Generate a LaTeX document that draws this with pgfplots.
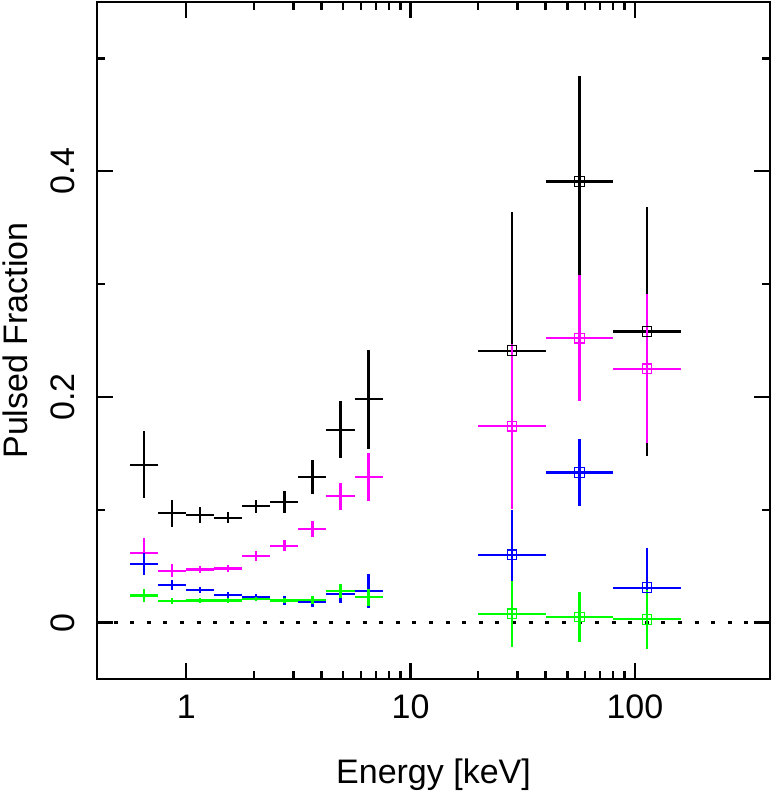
\documentclass[border=0pt]{standalone}
\usepackage{fontspec}
\setmainfont{Liberation Sans}
\usepackage{pgfplots}
\usepackage{pgfplotstable}
\pgfplotsset{compat=1.18}
\definecolor{pgmag}{RGB}{255,0,255}
\definecolor{pgblue}{RGB}{0,0,255}
\definecolor{pggreen}{RGB}{0,255,0}

% soft band: bin centre, bin half-widths, then value and error for black, magenta, blue, green
\pgfplotstableread{
x xp xm yk ek ym em yb eb yg eg
0.6494 0.1005 0.0871 0.140 0.030 0.062 0.013 0.052 0.010 0.024 0.006
0.8660 0.1340 0.1161 0.097 0.012 0.046 0.006 0.033 0.0045 0.019 0.0027
1.1548 0.1787 0.1548 0.095 0.007 0.047 0.003 0.029 0.0027 0.0195 0.002
1.5399 0.2384 0.2064 0.093 0.005 0.048 0.003 0.0245 0.0025 0.0195 0.002
2.0535 0.3179 0.2752 0.103 0.006 0.059 0.004 0.023 0.0025 0.021 0.002
2.7384 0.4239 0.3670 0.107 0.010 0.068 0.005 0.0195 0.004 0.0195 0.002
3.6517 0.5653 0.4894 0.129 0.015 0.083 0.007 0.0186 0.005 0.020 0.0037
4.8697 0.7537 0.6527 0.171 0.025 0.112 0.012 0.0254 0.008 0.028 0.006
6.4938 1.0051 0.8704 0.198 0.044 0.129 0.021 0.028 0.015 0.0224 0.0077
}\soft
% hard band
\pgfplotstableread{
x xp xm yk ek ym em yb eb yg eg
28.284 11.716 8.284 0.241 0.123 0.174 0.073 0.060 0.040 0.0077 0.029
56.569 23.431 16.569 0.391 0.093 0.252 0.056 0.133 0.030 0.005 0.0225
113.137 46.863 33.137 0.258 0.110 0.225 0.066 0.031 0.035 0.0029 0.026
}\hard

\pgfplotsset{
  errs/.style={line width=1.1pt,
    error bars/x dir=both, error bars/x explicit, error bars/y dir=both, error bars/y explicit,
    error bars/error mark=none, error bars/error bar style={draw, line width=1.1pt, solid}},
  pf/.style={errs, draw=none, mark=none},
  pfsq/.style={errs, only marks, mark=square, mark size=2.4pt, mark options={line width=0.6pt, solid}},
}

\begin{document}
\begin{tikzpicture}
\begin{axis}[
  xmode=log, scale only axis, width=336.5pt, height=338.5pt,
  xmin=0.4, xmax=400, ymin=-0.05, ymax=0.55,
  xtick={1,10,100}, xticklabels={1,10,100},
  ytick={0,0.2,0.4}, yticklabels={0,0.2,0.4}, minor ytick={0.1,0.3,0.5},
  tick align=inside, major tick length=8pt, minor tick length=4pt,
  every tick/.style={black, line width=1.2pt},
  axis line style={line width=1.25pt},
  tick label style={font=\fontsize{17}{20}\selectfont, inner sep=0pt},
  xticklabel style={anchor=base, yshift=-19.5pt},
  yticklabel style={rotate=90, anchor=south}, yticklabel shift=11pt,
  label style={font=\fontsize{17}{20}\selectfont, inner sep=0pt},
  xlabel={Energy [keV]}, ylabel={Pulsed Fraction},
  xlabel style={at={(axis description cs:0.5,-0.155)}, anchor=base},
  ylabel style={at={(axis description cs:-0.104,0.5)}, anchor=base},
]
\addplot[black, line width=1.2pt, dash pattern=on 2pt off 6.3pt] coordinates {(0.4,0) (400,0)};
\addplot[black, pf] table[x=x, y=yk, x error plus=xp, x error minus=xm, y error=ek] {\soft};
\addplot[black, pfsq] table[x=x, y=yk, x error plus=xp, x error minus=xm, y error=ek] {\hard};
\addplot[pgmag, pf] table[x=x, y=ym, x error plus=xp, x error minus=xm, y error=em] {\soft};
\addplot[pgmag, pfsq] table[x=x, y=ym, x error plus=xp, x error minus=xm, y error=em] {\hard};
\addplot[pgblue, pf] table[x=x, y=yb, x error plus=xp, x error minus=xm, y error=eb] {\soft};
\addplot[pgblue, pfsq] table[x=x, y=yb, x error plus=xp, x error minus=xm, y error=eb] {\hard};
\addplot[pggreen, pf] table[x=x, y=yg, x error plus=xp, x error minus=xm, y error=eg] {\soft};
\addplot[pggreen, pfsq] table[x=x, y=yg, x error plus=xp, x error minus=xm, y error=eg] {\hard};
\end{axis}
\pgfresetboundingbox
\path (-48.5pt,-57.5pt) rectangle (337.5pt,339.5pt);
\end{tikzpicture}
\end{document}
